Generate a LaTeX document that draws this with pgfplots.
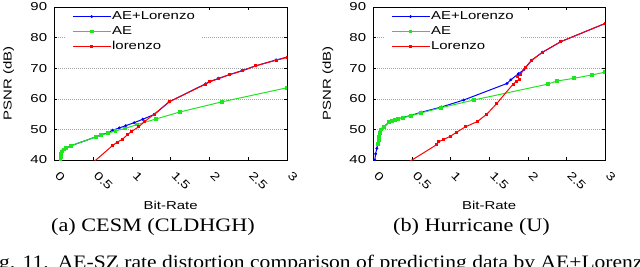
\documentclass[border=0pt]{standalone}
\usepackage{fontspec}
\setmainfont{Liberation Serif}[FakeStretch=1.17]
\newfontfamily\plotfont{Liberation Sans}[FakeStretch=1.3]
\usepackage{pgfplots}
\pgfplotsset{compat=1.18}
\definecolor{cblue}{RGB}{0,0,255}
\definecolor{cgreen}{RGB}{30,230,30}
\definecolor{cred}{RGB}{255,0,0}
\newcommand{\pf}{\plotfont\fontsize{11.5}{13}\selectfont}
\pgfplotsset{
  psnr/.style={
    scale only axis, height=153pt,
    xmin=0, xmax=3, ymin=40, ymax=90,
    xtick={0,0.5,1,1.5,2,2.5,3}, ytick={40,50,60,70,80,90},
    ymajorgrids,
    major grid style={gray!70, line width=0.5pt, dash pattern=on 1pt off 1pt},
    tick style={black, line width=0.5pt}, major tick length=3pt,
    axis line style={line width=0.7pt},
    /pgf/number format/assume math mode=true,
    xticklabel={\pgfmathprintnumber[assume math mode=true]{\tick}},
    yticklabel={\pgfmathprintnumber[assume math mode=true]{\tick}},
    xticklabel style={font=\pf, yshift=-16pt, rotate=-45, anchor=base west, inner sep=0pt},
    yticklabel style={font=\pf, inner sep=0pt, xshift=-7pt},
    xlabel={Bit-Rate}, ylabel={PSNR (dB)},
    every axis x label/.style={font=\pf, at={(axis description cs:0.5,-0.294)}, anchor=center},
    every axis y label/.style={font=\pf, at={(axis description cs:-0.196,0.5)}, rotate=90, anchor=center},
    clip marker paths=true,
    legend style={at={(axis description cs:0.05,0.993)}, anchor=north west,
      draw=none, fill=white, inner xsep=6pt, inner ysep=2pt, font=\pf,
      row sep=2.5pt,
      nodes={inner sep=1pt, text height=8pt, text depth=2.5pt}},
    legend cell align=left,
    legend image code/.code={\draw[mark repeat=2,mark phase=2] plot coordinates {(0pt,0pt) (19pt,0pt) (38pt,0pt)};},
  },
  sblue/.style={color=cblue, line width=1pt, mark=*, mark size=0.9pt},
  sgreen/.style={color=cgreen, line width=1pt, mark=square*, mark size=1.4pt},
  sred/.style={color=cred, line width=1pt, mark=square*, mark size=1pt},
}
\begin{document}
\begin{tikzpicture}
\useasboundingbox (0pt,0pt) rectangle (640pt,266pt);
% ---------- (a) CESM ----------
\begin{axis}[psnr, width=232.7pt, at={(54.3pt,106pt)}, anchor=south west]
\addplot[sblue] coordinates {
(0.08,40.0) (0.09,42.0) (0.10,43.0) (0.15,43.9) (0.22,44.7) (0.54,47.6) (0.60,48.2)
(0.69,48.9) (0.75,49.7) (0.84,50.5) (0.92,51.2) (1.03,52.2) (1.14,53.3) (1.29,54.9)
(1.48,59.0) (1.95,64.9) (2.00,65.6) (2.12,66.7) (2.26,67.9) (2.42,69.2) (2.60,70.8)
(2.86,72.7) (3.00,73.6)};
\addlegendentry{AE+Lorenzo}
\addplot[sgreen] coordinates {
(0.08,40.0) (0.085,41.0) (0.09,42.0) (0.10,42.8) (0.12,43.4) (0.15,43.9) (0.22,44.7)
(0.54,47.6) (0.60,48.2) (0.69,48.7) (0.79,49.5) (0.91,50.3) (1.07,51.6) (1.31,53.4)
(1.62,55.7) (2.16,59.0) (3.00,63.6)};
\addlegendentry{AE}
\addplot[sred] coordinates {
(0.50,39.2) (0.75,44.7) (0.81,45.8) (0.88,46.8) (0.94,48.2) (0.99,49.2) (1.09,50.9)
(1.16,52.5) (1.29,55.0) (1.48,59.0) (1.95,64.8) (2.00,65.5) (2.12,66.6) (2.26,67.9)
(2.42,69.1) (2.60,70.8) (2.86,72.6) (3.00,73.5)};
\addlegendentry{lorenzo}
\end{axis}
% ---------- (b) Hurricane ----------
\begin{axis}[psnr, width=231.7pt, at={(373.3pt,106pt)}, anchor=south west]
\addplot[sblue] coordinates {
(0.02,40.0) (0.03,42.0) (0.045,43.8) (0.06,45.5) (0.07,47.5) (0.09,49.5) (0.13,50.7)
(0.20,52.3) (0.30,53.3) (0.49,54.6) (0.62,55.6) (0.88,57.3) (1.17,59.6) (1.73,65.0)
(1.78,66.2) (1.88,68.2) (1.95,69.5) (2.05,72.6) (2.19,75.2) (2.43,78.7) (3.00,84.6)};
\addlegendentry{AE+Lorenzo}
\addplot[sgreen] coordinates {
(0.065,45.2) (0.069,46.5) (0.073,47.6) (0.082,48.7) (0.10,50.0) (0.134,50.7) (0.207,52.3)
(0.24,52.7) (0.276,53.0) (0.32,53.4) (0.384,53.8) (0.49,54.5) (0.62,55.4) (0.88,57.1)
(1.30,59.6) (2.26,64.8) (2.376,65.8) (2.60,66.7) (2.83,67.8) (3.00,68.7)};
\addlegendentry{AE}
\addplot[sred] coordinates {
(0.45,39.2) (0.82,45.0) (0.84,45.9) (0.91,46.7) (1.00,47.8) (1.08,49.1) (1.19,50.8)
(1.35,52.6) (1.47,55.0) (1.60,58.5) (1.81,64.8) (1.86,65.8) (1.89,66.3) (1.87,67.2)
(1.90,67.8) (1.97,70.3) (2.05,72.6) (2.19,75.2) (2.43,78.7) (3.00,84.6)};
\addlegendentry{Lorenzo}
\end{axis}
% ---------- captions ----------
\node[anchor=base, inner sep=0pt, font=\fontsize{19}{22}\selectfont] at (153pt,34.3pt) {(a) CESM (CLDHGH)};
\node[anchor=base, inner sep=0pt, font=\fontsize{19}{22}\selectfont] at (471.5pt,34.3pt) {(b) Hurricane (U)};
\node[anchor=base west, inner sep=0pt, font=\fontsize{19}{22}\selectfont] at (-19pt,-2.5pt) {\scalebox{0.97}[1]{Fig. 11.\enspace AE-SZ rate distortion comparison of predicting data by AE+Lorenzo and Lorenzo.}};
\end{tikzpicture}
\end{document}
